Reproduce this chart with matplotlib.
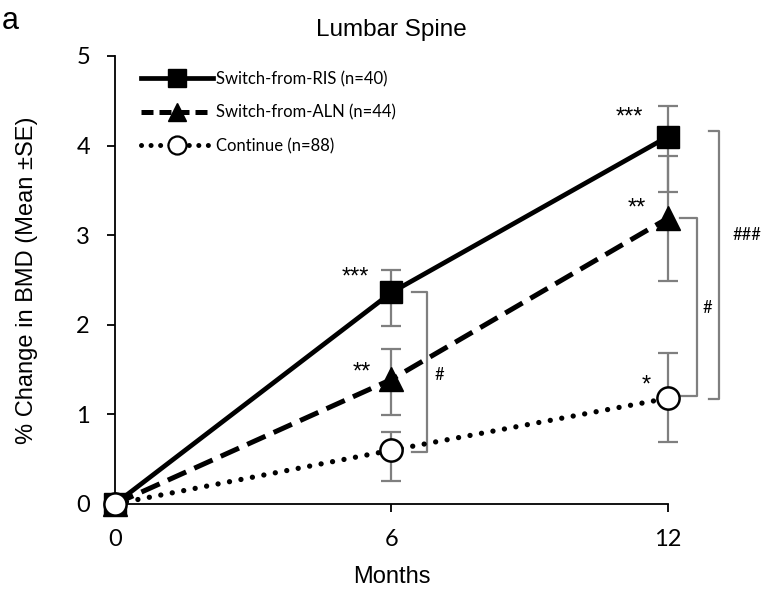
import matplotlib
matplotlib.use("Agg")
import matplotlib.pyplot as plt
from matplotlib.lines import Line2D

months = [0, 6, 12]
labels = ["Switch-from-RIS (n=40)", "Switch-from-ALN (n=44)", "Continue (n=88)"]

ris = [0, 2.36, 4.10]
ris_lo = [0, 0.37, 0.62]
ris_hi = [0, 0.25, 0.34]

aln = [0, 1.39, 3.19]
aln_lo = [0, 0.40, 0.70]
aln_hi = [0, 0.34, 0.69]

cont = [0, 0.60, 1.18]
cont_lo = [0, 0.34, 0.49]
cont_hi = [0, 0.20, 0.51]

# significance vs baseline, (month, y, text)
stars = [(5.21, 2.53, "***"), (5.36, 1.47, "**"),
         (11.17, 4.31, "***"), (11.32, 3.30, "**"), (11.52, 1.32, "*")]

sans = "Liberation Sans"
calib = "Lato"
grey = "#7f7f7f"

fig = plt.figure(figsize=(7.65, 5.95), dpi=100)
ax = fig.add_axes([0.1503, 0.153, 0.7229, 0.753])

for y, lo, hi in [(aln, aln_lo, aln_hi), (ris, ris_lo, ris_hi), (cont, cont_lo, cont_hi)]:
    ax.errorbar(months, y, yerr=[lo, hi], fmt="none", ecolor=grey, elinewidth=1.6,
                capsize=7, capthick=1.6, zorder=2, clip_on=False)

l_aln, = ax.plot(months, aln, color="black", lw=3.6, linestyle=(0, (4, 1.8)),
                 marker="^", markersize=17, markerfacecolor="black",
                 markeredgecolor="black", zorder=3, clip_on=False)
l_ris, = ax.plot(months, ris, color="black", lw=3.4, linestyle="-",
                 marker="s", markersize=16, markerfacecolor="black",
                 markeredgecolor="black", zorder=4, clip_on=False)
l_cont, = ax.plot(months, cont, color="black", lw=3.8, linestyle=(0, (0.01, 2.2)),
                  dash_capstyle="round", marker="o", markersize=16,
                  markerfacecolor="white", markeredgecolor="black",
                  markeredgewidth=1.8, zorder=5, clip_on=False)

ax.set_xlim(0, 12)
ax.set_ylim(0, 5)
ax.set_xticks(months)
ax.set_yticks([0, 1, 2, 3, 4, 5])
for s in ["top", "right"]:
    ax.spines[s].set_visible(False)
for s in ["left", "bottom"]:
    ax.spines[s].set_linewidth(1.3)
ax.tick_params(axis="both", direction="out", length=6, width=1.3, labelsize=17, pad=12)
for t in ax.get_xticklabels() + ax.get_yticklabels():
    t.set_fontfamily(calib)

ax.set_xlabel("Months", fontfamily=sans, fontsize=17)
ax.xaxis.set_label_coords(0.5, -0.138)
ax.set_ylabel("% Change in BMD (Mean \u00b1SE)", fontfamily=sans, fontsize=17)
ax.yaxis.set_label_coords(-0.139, 0.5)
ax.set_title("Lumbar Spine", fontfamily=sans, fontsize=17.5, pad=14)
fig.text(0.002, 0.965, "a", fontfamily=sans, fontsize=22, va="center", ha="left")

for m, y, txt in stars:
    ax.text(m, y, txt, ha="center", va="center", fontfamily=sans, fontsize=17)

# comparison brackets between groups: x0, x1, top, bottom, text, text x, text y
brackets = [(6.44, 6.77, 2.37, 0.58, "#", 7.03, 1.44),
            (12.26, 12.62, 3.19, 1.20, "#", 12.86, 2.19),
            (12.88, 13.10, 4.16, 1.17, "###", 13.71, 3.00)]
for x0, x1, ytop, ybot, txt, xt, yt in brackets:
    ax.plot([x0, x1, x1, x0], [ytop, ytop, ybot, ybot], color=grey, lw=1.6,
            clip_on=False, zorder=2)
    ax.text(xt, yt, txt, ha="center", va="center",
            fontfamily=calib, fontsize=12, clip_on=False)

handles = [
    Line2D([], [], color="black", lw=3.4, marker="s", markersize=13),
    Line2D([], [], color="black", lw=3.6, linestyle=(0, (2.4, 1.2)), marker="^", markersize=13),
    Line2D([], [], color="black", lw=3.6, linestyle=(0, (0.01, 1.9)), dash_capstyle="round",
           marker="o", markersize=13, markerfacecolor="white", markeredgewidth=1.6),
]
leg = ax.legend(handles, labels, loc="upper left", bbox_to_anchor=(0.02, 1.0),
                frameon=False, handlelength=4.3, handletextpad=0.2, labelspacing=1.05,
                prop={"family": calib, "size": 12})

fig.savefig("out.png", dpi=100)
